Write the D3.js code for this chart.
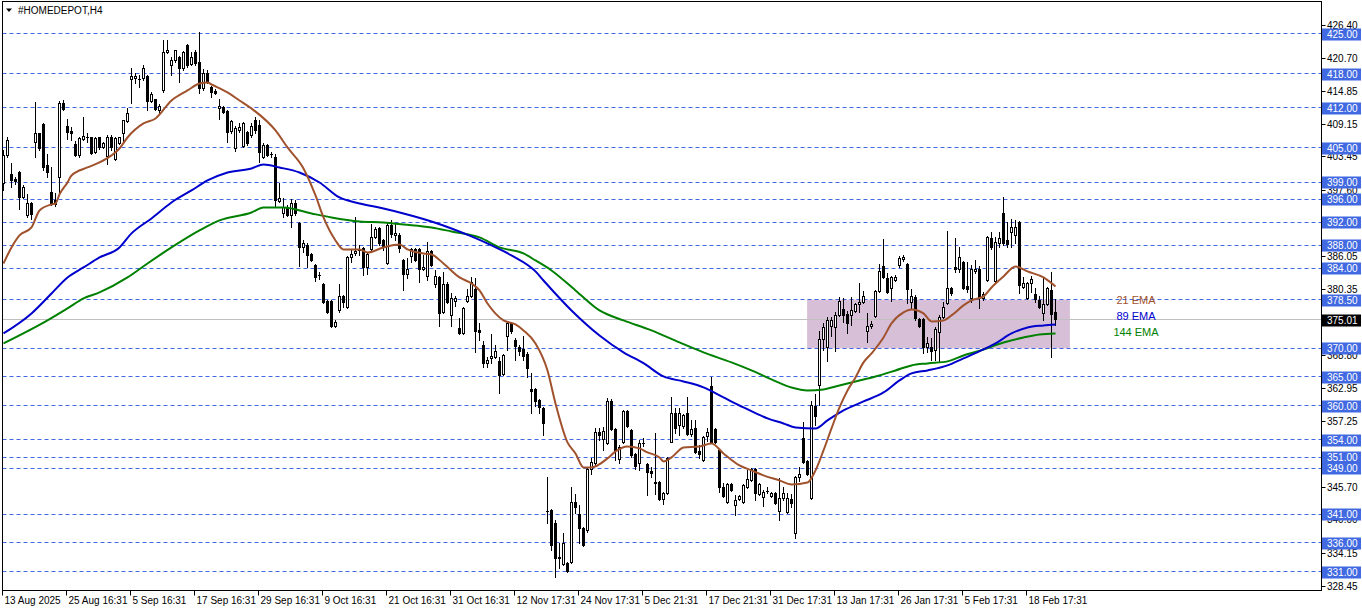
<!DOCTYPE html>
<html><head><meta charset="utf-8">
<script src="https://cdn.jsdelivr.net/npm/d3@7"></script>
<style>body{margin:0;background:#fff;} svg{display:block;font-family:"Liberation Sans",Arial,sans-serif;}</style>
</head><body>
<svg id="c" width="1362" height="611"></svg>
<script>
const title = "#HOMEDEPOT,H4";
const open = [
398.80,403.70,400.37,399.50,400.72,396.35,393.21,395.30,405.96,407.53,
409.11,401.94,397.23,395.83,399.85,412.78,408.76,407.88,405.61,403.70,
406.49,406.90,406.83,404.22,406.83,405.09,403.52,406.83,402.99,405.79,
407.53,409.63,416.97,417.20,417.00,417.14,417.49,413.13,413.47,411.55,
415.05,421.69,419.41,420.29,420.81,418.89,422.91,419.59,421.69,419.94,
415.40,418.02,415.57,414.87,411.90,412.08,411.38,407.88,404.91,408.06,
405.26,407.71,407.18,409.81,408.93,403.35,405.44,403.90,403.35,395.65,
393.56,394.43,393.21,395.30,391.81,387.62,387.97,386.39,384.47,382.80,
381.15,378.18,378.18,373.82,376.61,379.06,377.14,385.87,386.57,387.10,
387.44,384.12,387.27,389.37,390.94,388.84,384.82,391.46,389.72,389.72,
385.35,382.90,386.04,387.27,387.27,383.78,382.55,386.92,381.15,382.38,
376.26,381.15,375.74,378.18,373.47,372.59,378.18,379.06,380.28,373.12,
370.50,367.36,368.23,368.40,367.71,365.43,372.07,374.34,371.37,370.15,
369.80,368.93,362.81,362.81,360.89,359.49,341.50,341.67,339.40,333.46,
332.24,332.42,332.59,343.07,340.97,338.53,338.18,348.84,349.89,355.30,
354.08,353.38,360.71,355.82,350.58,353.55,358.97,355.65,351.46,349.89,
353.30,349.71,348.49,346.56,346.56,343.59,344.64,353.55,358.62,356.52,
356.35,358.62,354.95,355.99,351.98,350.41,354.60,363.33,355.82,352.16,
345.69,343.07,346.21,342.55,343.59,343.07,345.69,346.91,348.84,344.47,
343.94,345.00,344.12,344.64,341.49,343.77,341.32,343.59,337.66,347.44,
354.25,350.23,343.77,359.84,363.51,371.55,370.15,373.82,373.64,375.74,
376.78,375.91,375.74,376.43,377.66,378.01,372.94,373.82,375.56,379.93,
384.30,382.20,380.46,381.85,384.47,385.52,384.65,378.01,378.88,375.04,
375.04,370.15,370.15,369.63,372.77,375.39,377.83,380.46,384.12,383.78,
385.00,380.81,378.71,383.43,383.78,378.71,381.85,389.19,381.68,388.32,
393.56,388.84,390.24,389.72,391.98,380.63,378.71,381.33,379.41,378.36,
376.09,377.66,380.11,376.26];
const high = [
404.57,406.83,402.30,399.85,400.90,398.45,396.88,395.48,412.95,407.70,
409.30,403.87,401.59,397.05,413.13,413.30,409.98,408.58,406.14,406.83,
410.33,407.53,407.00,406.83,407.00,405.96,407.18,407.18,406.83,406.90,
409.90,411.90,418.89,418.02,417.67,419.41,417.67,414.70,413.60,412.60,
423.78,423.78,420.81,422.20,421.00,421.86,423.10,421.69,422.04,425.18,
418.72,418.54,415.75,415.22,413.47,412.25,411.55,409.81,408.76,409.28,
409.46,407.88,409.28,410.33,409.81,405.79,405.61,404.22,403.87,398.80,
396.18,394.96,396.00,395.83,392.00,388.84,388.32,386.57,384.65,383.25,
381.33,378.36,378.36,374.87,381.15,379.23,386.04,387.09,392.86,387.97,
387.62,386.74,391.64,391.11,391.11,389.02,391.81,392.34,391.81,390.07,
385.52,385.70,387.44,387.44,387.44,386.22,388.49,387.09,383.60,382.55,
383.25,381.50,379.58,379.06,375.22,377.14,380.28,382.38,382.20,374.34,
371.20,368.40,372.42,370.50,368.40,368.93,374.52,374.52,371.72,370.50,
372.07,369.28,365.61,362.98,361.06,359.67,347.44,341.85,339.93,335.91,
337.66,332.59,345.69,344.47,342.54,338.70,349.19,350.76,356.00,356.00,
356.17,361.24,361.06,356.00,353.03,359.14,359.14,355.82,351.63,353.90,
354.26,349.89,349.19,355.12,346.74,344.82,350.93,361.41,359.49,359.49,
358.45,361.41,357.40,357.40,353.03,354.60,355.99,364.91,355.99,352.33,
346.39,346.39,346.39,344.29,344.29,346.21,348.66,349.01,349.01,346.39,
345.17,345.69,344.82,344.82,347.26,345.69,344.64,344.47,347.61,349.19,
357.05,350.41,360.71,361.94,372.94,374.34,375.39,375.39,376.26,378.88,
378.71,376.43,378.88,377.83,381.33,379.93,376.09,374.69,380.11,384.65,
389.02,383.08,382.55,382.73,386.04,386.22,384.82,380.28,379.23,375.22,
375.22,371.89,371.72,373.64,375.74,378.01,390.42,380.63,389.19,387.62,
385.17,385.00,384.47,385.35,384.30,379.76,389.54,390.24,389.37,390.24,
396.35,391.98,392.51,392.34,392.16,382.38,381.50,382.55,380.46,379.06,
382.20,380.63,383.25,378.53];
const low = [
397.58,403.35,398.10,398.62,394.26,396.18,392.86,392.51,403.35,404.57,
401.07,399.85,394.96,394.78,397.05,411.55,406.49,406.31,403.52,403.35,
406.31,405.96,403.87,404.04,404.74,404.91,402.12,404.57,402.82,405.61,
405.96,409.50,412.78,416.27,415.57,416.79,411.55,412.95,411.55,411.03,
414.70,421.51,417.67,420.10,416.44,418.70,419.20,419.41,419.41,414.52,
415.05,416.27,413.82,414.35,409.98,411.03,405.96,407.53,404.39,407.71,
405.09,405.44,407.00,407.53,402.47,403.17,403.52,403.35,394.61,395.48,
392.86,393.03,391.11,393.21,384.30,386.74,384.13,385.17,381.68,382.03,
377.83,376.09,373.64,373.64,376.26,377.14,376.96,384.99,386.22,386.22,
382.73,382.90,387.09,389.19,387.97,387.09,384.65,389.37,388.84,386.74,
380.11,382.20,384.99,385.17,381.50,383.60,381.85,384.30,380.63,373.82,
376.09,377.83,373.82,377.31,372.42,372.42,378.01,378.88,369.28,371.37,
366.66,366.66,367.36,368.23,362.11,365.26,369.63,372.59,367.88,368.75,
367.88,364.91,358.62,359.84,358.62,354.78,339.40,334.69,329.97,331.54,
332.07,330.84,332.42,341.15,335.91,335.38,337.83,347.96,349.54,353.90,
352.16,353.21,355.65,350.41,349.89,353.38,356.17,350.93,348.84,348.66,
352.86,344.29,347.44,344.47,343.42,342.72,344.47,353.55,355.12,354.78,
355.99,354.78,354.60,351.63,350.76,350.23,353.73,353.38,353.38,344.82,
343.94,342.89,344.99,340.80,343.42,342.89,345.52,346.74,343.42,344.29,
342.37,344.64,343.94,342.72,339.93,343.42,341.15,342.20,336.78,346.74,
349.89,347.79,343.59,356.52,360.02,369.63,367.71,372.07,369.45,375.57,
374.52,372.59,373.99,376.26,376.26,377.83,371.02,373.47,375.39,379.76,
382.20,379.58,378.18,381.68,384.12,385.17,377.83,376.96,374.87,373.64,
369.10,369.28,367.88,367.88,367.71,375.22,377.66,379.23,383.25,383.25,
380.28,379.76,378.01,383.08,376.96,378.36,381.68,387.27,381.50,387.62,
387.97,387.62,387.62,388.32,379.58,380.46,378.53,379.76,378.01,376.96,
374.87,377.49,368.40,373.99];
const close = [
403.70,406.31,399.32,399.15,396.35,398.10,395.30,393.38,407.53,404.91,
401.59,400.72,395.13,395.13,412.78,411.73,407.71,407.53,403.70,406.66,
407.01,406.80,404.04,406.66,405.09,405.79,406.83,405.09,406.66,406.83,
409.81,411.03,417.49,417.40,416.90,418.89,413.13,414.35,411.73,412.25,
421.69,422.04,420.29,422.04,418.89,421.69,419.41,420.81,419.76,415.40,
418.02,416.44,414.70,414.52,412.25,411.20,407.71,409.63,408.41,408.58,
409.28,405.79,408.76,408.06,404.22,405.44,403.70,403.80,395.83,396.18,
394.61,393.21,395.30,393.56,387.62,388.32,386.22,385.35,382.38,382.70,
378.01,376.26,373.82,374.52,379.06,378.01,385.87,386.39,386.92,387.00,
384.12,386.39,389.37,390.77,388.32,387.62,391.46,389.89,390.07,387.44,
382.90,383.78,387.27,385.35,383.78,384.12,386.92,384.47,382.55,376.09,
381.15,378.01,378.71,378.71,372.59,376.96,379.06,381.50,372.94,372.77,
367.36,367.88,368.58,369.45,365.26,368.75,374.34,372.94,370.32,369.45,
368.58,366.48,362.46,360.71,359.67,356.87,341.40,335.56,333.29,333.29,
335.91,331.01,343.07,342.20,338.53,335.56,348.84,350.06,355.30,354.78,
355.47,360.71,355.82,352.16,352.68,358.97,356.35,351.28,349.36,353.38,
353.40,348.31,348.14,346.39,343.59,344.64,350.76,358.62,355.99,358.62,
358.27,354.95,355.82,351.81,351.46,354.43,355.30,353.55,353.55,345.69,
344.12,346.21,345.17,343.42,344.12,346.04,347.09,348.84,344.64,346.21,
344.82,344.95,344.64,342.89,343.77,344.64,343.77,342.89,347.44,347.96,
350.06,347.96,360.02,358.10,371.55,373.64,374.87,374.87,375.74,378.18,
375.74,374.34,376.61,377.66,378.01,379.06,373.82,374.17,379.93,383.43,
382.38,379.76,382.38,382.38,385.70,385.87,380.28,379.06,375.21,373.82,
370.15,370.85,369.45,373.29,375.39,377.14,380.46,379.58,383.78,385.87,
380.46,380.28,383.78,383.78,378.71,379.41,389.37,387.62,388.49,389.19,
388.32,388.14,391.11,391.11,380.98,381.33,381.33,382.03,378.53,377.14,
377.66,380.46,375.91,375.01];

// EMA readings: [bar index, price]
const ema21 = [[0,384.82],[2,387.62],[4,389.72],[7,391.11],[9,394.08],[12,395.13],[13,395.30],[14,396.90],[16,398.97],[17,400.20],[21,401.60],[24,402.47],[27,403.70],[29,404.91],[31,406.83],[35,409.28],[38,410.15],[42,413.30],[46,415.05],[49,416.27],[51,416.44],[52,416.09],[56,414.70],[59,413.30],[62,411.90],[68,408.06],[71,405.09],[75,401.42],[78,396.70],[80,392.86],[83,388.84],[85,387.27],[89,387.27],[91,386.74],[95,387.62],[99,388.14],[101,387.27],[105,386.57],[107,386.39],[110,384.82],[114,382.38],[117,381.33],[119,380.11],[121,377.83],[125,374.87],[128,374.17],[130,373.12],[133,370.85],[136,366.13],[138,360.36],[141,353.55],[143,351.63],[145,349.19],[147,349.19],[151,350.76],[153,351.98],[156,352.86],[159,352.51],[161,351.81],[164,350.93],[165,350.23],[167,350.93],[170,352.68],[174,352.86],[177,353.38],[180,351.63],[184,349.54],[187,348.66],[190,347.79],[194,346.91],[197,346.21],[201,346.56],[203,348.66],[205,352.16],[207,356.00],[209,359.67],[211,362.64],[213,364.91],[215,367.53],[217,369.10],[220,371.89],[222,374.34],[225,376.26],[227,376.78],[230,376.09],[232,374.69],[235,374.87],[237,375.74],[240,377.49],[242,378.36],[245,379.06],[247,380.63],[250,382.55],[253,384.30],[256,383.43],[260,382.38],[263,380.81]];
const ema89 = [[0,372.59],[7,376.09],[12,379.58],[16,382.38],[20,384.12],[24,385.87],[29,387.62],[32,390.07],[37,392.69],[42,395.48],[47,397.58],[51,399.32],[56,400.72],[62,401.42],[65,402.12],[69,401.59],[74,400.72],[79,398.97],[84,396.35],[89,395.30],[95,394.43],[100,393.56],[107,392.16],[112,390.94],[117,389.54],[122,387.97],[127,386.22],[133,383.43],[135,381.85],[142,376.61],[149,372.24],[155,369.30],[160,367.40],[165,365.08],[170,364.21],[175,363.16],[180,361.41],[185,359.67],[191,357.75],[195,356.87],[198,356.17],[203,356.00],[206,357.40],[210,359.14],[215,360.71],[220,362.28],[224,364.38],[227,365.61],[231,366.13],[236,367.01],[240,368.23],[245,369.80],[248,370.85],[252,372.59],[256,373.64],[260,373.99],[263,374.17]];
const ema144 = [[0,370.85],[11,374.87],[16,376.96],[20,378.71],[24,379.76],[31,382.38],[36,384.82],[42,387.62],[49,390.59],[54,392.34],[62,393.73],[65,394.61],[70,394.61],[77,393.56],[82,392.86],[89,392.16],[95,391.98],[100,391.64],[107,391.11],[112,390.42],[119,389.37],[124,387.62],[130,386.57],[133,385.35],[137,383.60],[143,380.11],[149,376.61],[155,374.87],[162,373.12],[169,371.02],[175,369.28],[182,367.53],[187,366.13],[192,364.56],[197,363.16],[201,362.64],[205,362.81],[208,363.33],[213,364.21],[218,365.08],[223,366.13],[227,367.01],[231,367.36],[236,367.71],[240,368.75],[245,369.80],[250,371.02],[255,371.89],[259,372.42],[263,372.59]];

const hLevels = [425,418,412,405,399,396,392,388,384,378.5,370,365,360,354,351,349,341,336,331];
const bidPrice = 375.01;
// scale ticks still visible beside the level labels
const priceTicks = [426.40,420.70,414.85,409.15,403.45,397.60,386.05,380.35,374.65,368.80,362.95,357.25,345.70,340.00,334.15,328.45];
const timeLabels = ["13 Aug 2025","25 Aug 16:31","5 Sep 16:31","17 Sep 16:31","29 Sep 16:31","9 Oct 16:31","21 Oct 16:31","31 Oct 16:31","12 Nov 17:31","24 Nov 17:31","5 Dec 21:31","17 Dec 21:31","31 Dec 17:31","13 Jan 17:31","26 Jan 17:31","5 Feb 17:31","18 Feb 17:31"];
const timeLabelBars = [0,16,32,48,64,80,96,112,128,144,160,176,192,208,224,240,256];
const zoneBars = [200.9, 266.6];
const zonePrices = [378.5, 370];
const legendNames = ["21 EMA","89 EMA","144 EMA"];
const legendPrices = [378.4, 375.6, 372.8];

const col21="#A0522D", col89="#0000CD", col144="#008000", lineBlue="#4169E1";

const svg = d3.select("#c");
const L=2.5, R=1321.5, T=1.5, B=590.5;
const x = d3.scaleLinear().domain([0,263]).range([3.5,1055.5]);
const y = d3.scaleLinear().domain([331,425]).range([571.5,33.5]);
const snap = v => Math.round(v-0.5)+0.5;

svg.append("rect").attr("width",1362).attr("height",611).attr("fill","#fff");
svg.append("defs").append("clipPath").attr("id","clip")
  .append("rect").attr("x",L).attr("y",T).attr("width",R-L).attr("height",B-T);
const plot = svg.append("g").attr("clip-path","url(#clip)");

// zone rectangle
plot.append("rect")
  .attr("x",x(zoneBars[0])).attr("width",x(zoneBars[1])-x(zoneBars[0]))
  .attr("y",y(zonePrices[0])).attr("height",y(zonePrices[1])-y(zonePrices[0]))
  .attr("fill","#D8BFD8");

// horizontal levels
plot.selectAll("line.h").data(hLevels).join("line")
  .attr("x1",L).attr("x2",R)
  .attr("y1",d=>snap(y(d))).attr("y2",d=>snap(y(d)))
  .attr("stroke",lineBlue).attr("stroke-width",1).attr("stroke-dasharray","4,3");
plot.append("line").attr("x1",L).attr("x2",R)
  .attr("y1",snap(y(bidPrice))).attr("y2",snap(y(bidPrice)))
  .attr("stroke","#C0C0C0").attr("stroke-width",1);

// legend texts
plot.selectAll("text.leg").data(legendNames).join("text")
  .attr("x",1136).attr("y",(d,i)=>y(legendPrices[i]))
  .attr("text-anchor","middle").attr("dominant-baseline","central")
  .attr("font-size","11px")
  .attr("fill",(d,i)=>[col21,col89,col144][i]).text(d=>d);

// candles
const idx = d3.range(open.length);
const cg = plot.append("g");
idx.forEach(i=>{
  const cx = x(i);
  const o=open[i], c=close[i];
  const bull = c>=o;
  const yt = snap(y(Math.max(o,c))), yb = snap(y(Math.min(o,c)));
  cg.append("line").attr("x1",cx).attr("x2",cx)
    .attr("y1",Math.round(y(high[i]))).attr("y2",Math.round(y(low[i]))+1)
    .attr("stroke","#000").attr("stroke-width",1);
  if (yb-yt < 1) {
    cg.append("line").attr("x1",cx-1.5).attr("x2",cx+1.5).attr("y1",yt).attr("y2",yt)
      .attr("stroke","#000").attr("stroke-width",1);
  } else {
    cg.append("rect").attr("x",cx-1).attr("width",2).attr("y",yt).attr("height",yb-yt)
      .attr("fill",bull?"#fff":"#000").attr("stroke","#000").attr("stroke-width",1);
  }
});

// EMA lines
const line = d3.line().x(d=>x(d[0])).y(d=>y(d[1])).curve(d3.curveMonotoneX);
[[ema144,col144],[ema89,col89],[ema21,col21]].forEach(([data,c])=>{
  plot.append("path").attr("d",line(data)).attr("fill","none")
    .attr("stroke",c).attr("stroke-width",2).attr("stroke-linejoin","round");
});

// frame
svg.append("rect").attr("x",L).attr("y",T).attr("width",R-L).attr("height",B-T)
  .attr("fill","none").attr("stroke","#000").attr("stroke-width",1);

// price axis
const ax = svg.append("g").attr("font-size","10px");
ax.selectAll("line.t").data(priceTicks).join("line")
  .attr("x1",R).attr("x2",R+4).attr("y1",d=>snap(y(d))).attr("y2",d=>snap(y(d)))
  .attr("stroke","#000");
ax.selectAll("text.t").data(priceTicks).join("text")
  .attr("x",1327).attr("y",d=>y(d)).attr("dominant-baseline","central")
  .attr("fill","#000").text(d=>d.toFixed(2));
const boxes = ax.selectAll("g.box").data(hLevels.map(v=>({v,bg:lineBlue})).concat([{v:bidPrice,bg:"#000"}])).join("g");
boxes.append("rect").attr("x",1322).attr("width",39).attr("y",d=>Math.round(y(d.v))-5.5).attr("height",12)
  .attr("fill",d=>d.bg);
boxes.append("text").attr("x",1327).attr("y",d=>Math.round(y(d.v))+0.5).attr("dominant-baseline","central")
  .attr("fill","#fff").text(d=>d.v.toFixed(2));

// time axis
const tx = svg.append("g").attr("font-size","10px");
tx.selectAll("line").data(timeLabelBars).join("line")
  .attr("x1",d=>snap(x(d))-1).attr("x2",d=>snap(x(d))-1).attr("y1",B).attr("y2",B+5)
  .attr("stroke","#000");
tx.selectAll("text").data(timeLabels).join("text")
  .attr("x",(d,i)=>snap(x(timeLabelBars[i]))+1).attr("y",604)
  .attr("fill","#000").text(d=>d);

// title
svg.append("path").attr("d","M6,8.5 L12,8.5 L9,12 Z").attr("fill","#000");
svg.append("text").attr("x",18).attr("y",14).attr("font-size","10px").attr("fill","#000").text(title);
</script>
</body></html>
